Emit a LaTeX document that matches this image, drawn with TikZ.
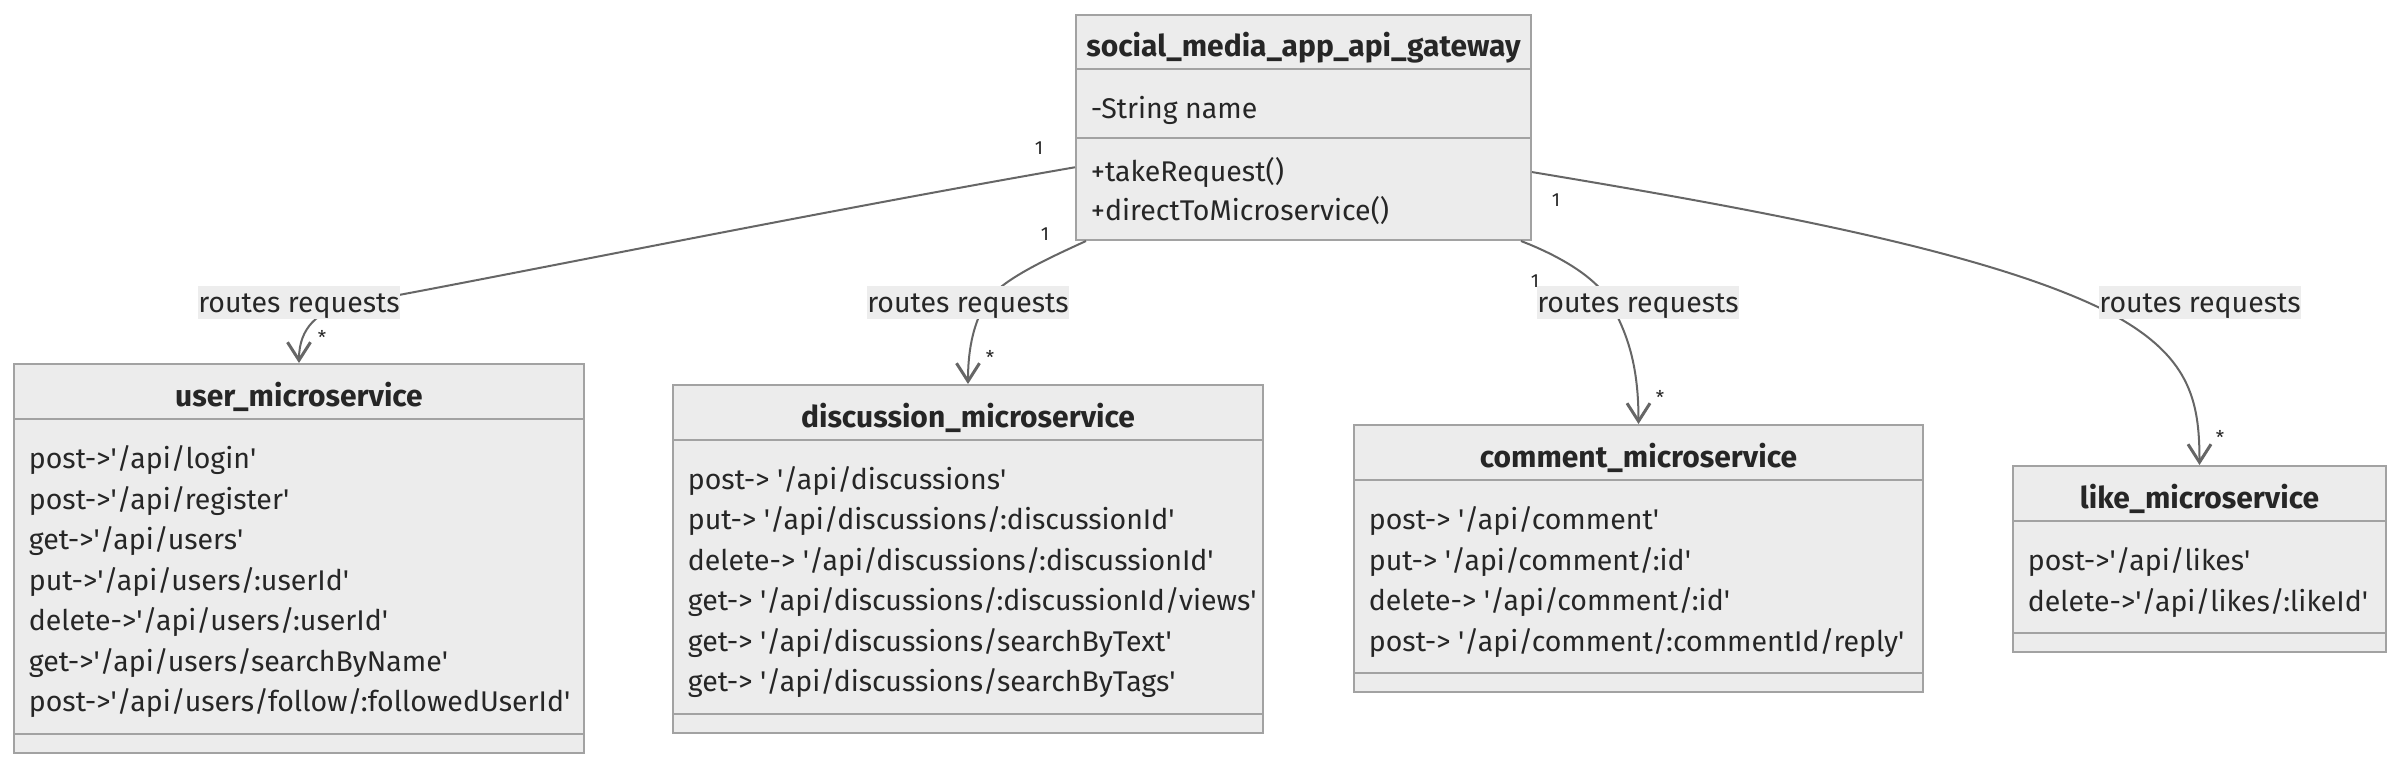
\documentclass[tikz,border=0pt]{standalone}
\usepackage{fontspec}
\setmainfont{Fira Sans}
\usetikzlibrary{arrows.meta}

\definecolor{boxfill}{HTML}{ECECEC}
\definecolor{boxline}{HTML}{A2A2A2}
\definecolor{edgeline}{HTML}{666666}
\definecolor{labelbg}{HTML}{EDEDED}
\definecolor{ink}{HTML}{262626}

\newcommand{\sq}{\textquotesingle}

\tikzset{
	classbox/.style={draw=boxline, fill=boxfill, line width=1pt, inner sep=0pt},
	sepline/.style={draw=boxline, line width=1pt},
	classtitle/.style={font=\bfseries\fontsize{15}{17}\selectfont, text=ink, anchor=base, inner sep=0pt},
	member/.style={font=\fontsize{14.25}{16}\selectfont, text=ink, anchor=base west, inner sep=0pt},
	assoc/.style={draw=edgeline, line width=1pt, -{Straight Barb[length=9pt, width=11.5pt, line width=1.5pt]}},
	routelabel/.style={fill=labelbg, text=ink, font=\fontsize{14.25}{16}\selectfont, inner sep=0pt, minimum width=100pt, text height=13pt, text depth=3.5pt},
	mult/.style={font=\fontsize{9.5}{10}\selectfont, text=ink, inner sep=0pt}
}

\begin{document}
\begin{tikzpicture}[x=0.5pt,y=-0.5pt]
	\fill[white] (0,0) rectangle (2400,768);
	\useasboundingbox (0,0) rectangle (2400,768);

	% class boxes
	\node[classbox, minimum width=227.5pt, minimum height=112.75pt] (gateway) at (1303.5,127.25) {};
	\node[classbox, minimum width=285pt, minimum height=194.5pt] (user) at (299,558.5) {};
	\node[classbox, minimum width=295pt, minimum height=174pt] (discussion) at (968,559) {};
	\node[classbox, minimum width=284.5pt, minimum height=133.5pt] (comment) at (1638.5,558.5) {};
	\node[classbox, minimum width=186.5pt, minimum height=93pt] (like) at (2199.5,559) {};

	% compartments
	\draw[sepline] ([yshift=-27.75pt]gateway.north west) -- ([yshift=-27.75pt]gateway.north east);
	\draw[sepline] ([yshift=-62.25pt]gateway.north west) -- ([yshift=-62.25pt]gateway.north east);
	\foreach \cls in {user,discussion,comment,like} {
		\draw[sepline] ([yshift=-27.75pt]\cls.north west) -- ([yshift=-27.75pt]\cls.north east);
		\draw[sepline] ([yshift=10pt]\cls.south west) -- ([yshift=10pt]\cls.south east);
	}

	% titles
	\node[classtitle] (gateway-title) at ([yshift=-21.25pt]gateway.north) {social\_media\_app\_api\_gateway};
	\node[classtitle] (user-title) at ([yshift=-21.5pt]user.north) {user\_microservice};
	\node[classtitle] (discussion-title) at ([yshift=-21.5pt]discussion.north) {discussion\_microservice};
	\node[classtitle] (comment-title) at ([yshift=-21.5pt]comment.north) {comment\_microservice};
	\node[classtitle] (like-title) at ([yshift=-21.5pt]like.north) {like\_microservice};

	% members
	\node[member] (gateway-name) at (1090.5,118.5) {-String name};
	\node[member] (gateway-take) at (1090.5,181) {+takeRequest()};
	\node[member] (gateway-direct) at (1090.5,220) {+directToMicroservice()};

	\foreach \m [count=\i] in {post->\sq/api/login\sq, post->\sq/api/register\sq, get->\sq/api/users\sq,
		put->\sq/api/users/:userId\sq, delete->\sq/api/users/:userId\sq,
		get->\sq/api/users/searchByName\sq, post->\sq/api/users/follow/:followedUserId\sq}
		\node[member] (user-m\i) at (28.5,{468.5+40.5*(\i-1)}) {\m};

	\foreach \m [count=\i] in {post-> \sq/api/discussions\sq, put-> \sq/api/discussions/:discussionId\sq,
		delete-> \sq/api/discussions/:discussionId\sq, get-> \sq/api/discussions/:discussionId/views\sq,
		get-> \sq/api/discussions/searchByText\sq, get-> \sq/api/discussions/searchByTags\sq}
		\node[member] (discussion-m\i) at (687.5,{489.25+40.5*(\i-1)}) {\m};

	\foreach \m [count=\i] in {post-> \sq/api/comment\sq, put-> \sq/api/comment/:id\sq,
		delete-> \sq/api/comment/:id\sq, post-> \sq/api/comment/:commentId/reply\sq}
		\node[member] (comment-m\i) at (1368.5,{529.75+40.5*(\i-1)}) {\m};

	\foreach \m [count=\i] in {post->\sq/api/likes\sq, delete->\sq/api/likes/:likeId\sq}
		\node[member] (like-m\i) at (2027.5,{570.75+40.5*(\i-1)}) {\m};

	% associations
	\draw[assoc] ([yshift=-20pt]gateway.west) .. controls (800,215) and (500,277) .. (350,304)
		.. controls (318,310) and (299,328) .. (user.north);
	\draw[assoc] ([xshift=5.5pt]gateway.south west) .. controls (1040,262) and (998,282) .. (985,304)
		.. controls (975,322) and (968,345) .. (discussion.north);
	\draw[assoc] ([xshift=-5.5pt]gateway.south east) .. controls (1565,258) and (1598,280) .. (1610,302)
		.. controls (1625,330) and (1638.5,360) .. (comment.north);
	\draw[assoc] ([yshift=-22.4pt]gateway.east) .. controls (1760,210) and (1990,252) .. (2108,312)
		.. controls (2190,355) and (2199.5,400) .. (like.north);

	\node[routelabel] (route-user) at (299,302.5) {routes requests};
	\node[routelabel] (route-discussion) at (968,302.5) {routes requests};
	\node[routelabel] (route-comment) at (1638,302.5) {routes requests};
	\node[routelabel] (route-like) at (2200,302.5) {routes requests};

	% multiplicities
	\node[mult] (one-user) at (1039,148) {1};
	\node[mult] (one-discussion) at (1045,234) {1};
	\node[mult] (one-comment) at (1535,281) {1};
	\node[mult] (one-like) at (1556,200) {1};
	\node[mult] (many-user) at (322,337) {*};
	\node[mult] (many-discussion) at (990,357) {*};
	\node[mult] (many-comment) at (1660,397) {*};
	\node[mult] (many-like) at (2220,437) {*};
\end{tikzpicture}
\end{document}
